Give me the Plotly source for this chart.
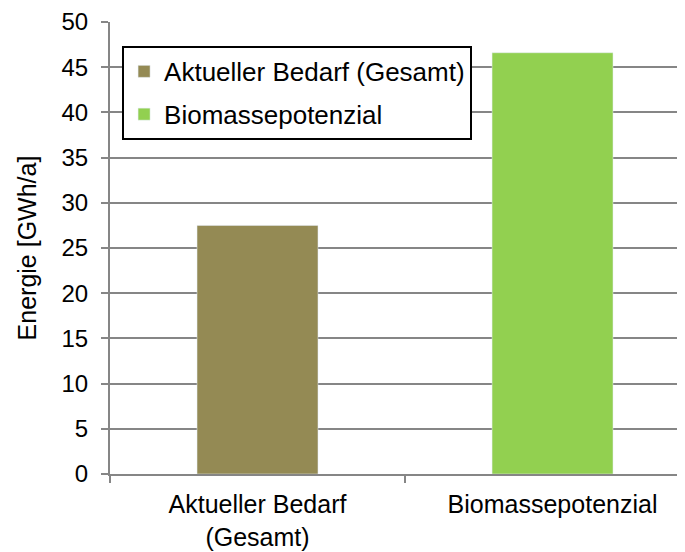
import plotly.graph_objects as go

categories = ["Aktueller Bedarf<br>(Gesamt)", "Biomassepotenzial"]
series_names = ["Aktueller Bedarf (Gesamt)", "Biomassepotenzial"]
values = [27.5, 46.6]
colors = ["#948A54", "#92D050"]
y_ticks = [0, 5, 10, 15, 20, 25, 30, 35, 40, 45, 50]

fig = go.Figure()
for i in range(len(categories)):
    fig.add_trace(go.Bar(
        x=[categories[i]],
        y=[values[i]],
        name=series_names[i],
        marker_color=colors[i],
        width=0.41,
        legendgroup=str(i),
    ))

# page body has an 8px margin, so the figure is 8px smaller than the window
axis_grey = "#868686"
fig.update_layout(
    width=677,
    height=544,
    margin=dict(l=102, r=0, t=14, b=78, autoexpand=False),
    plot_bgcolor="white",
    paper_bgcolor="white",
    font=dict(family="Liberation Sans, Arial", size=24, color="black"),
    showlegend=True,
    legend=dict(
        x=0.021, y=0.947, xanchor="left", yanchor="top",
        bordercolor="black", borderwidth=2, bgcolor="white",
        font=dict(size=26), traceorder="grouped", tracegroupgap=6,
    ),
    xaxis=dict(
        categoryorder="array", categoryarray=categories,
        range=[-0.5, 1.449],
        showline=True, linecolor=axis_grey, linewidth=2,
        ticks="outside", tickson="boundaries", ticklen=7, tickcolor=axis_grey, tickwidth=2,
        showgrid=False, tickfont=dict(size=25), ticklabelstandoff=7,
    ),
    yaxis=dict(
        range=[0, 50], tickvals=y_ticks,
        showline=True, linecolor=axis_grey, linewidth=2,
        ticks="outside", ticklen=7, tickcolor=axis_grey, tickwidth=2,
        showgrid=True, gridcolor=axis_grey, gridwidth=2,
        tickfont=dict(size=24), ticklabelstandoff=8,
        title=dict(text="Energie [GWh/a]", font=dict(size=25), standoff=18),
        zeroline=False,
    ),
)

fig.write_html("out.html")
